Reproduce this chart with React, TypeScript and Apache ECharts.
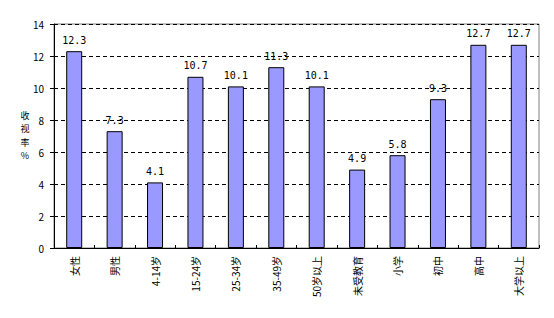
import React, { useEffect, useRef } from "react";
import * as echarts from "echarts";

const categories = ["女性", "男性", "4-14岁", "15-24岁", "25-34岁", "35-49岁", "50岁以上", "未受教育", "小学", "初中", "高中", "大学以上"];
const values = [12.3, 7.3, 4.1, 10.7, 10.1, 11.3, 10.1, 4.9, 5.8, 9.3, 12.7, 12.7];
const yTicks = { min: 0, max: 14, interval: 2 };
const yName = "收视率%";

export default function App() {
  const ref = useRef<HTMLDivElement>(null);
  useEffect(() => {
    const chart = echarts.init(ref.current!, null, { renderer: "svg" });
    const font = "'Noto Sans CJK SC', sans-serif";
    const nameChars = yName.split("").map((ch, i) => ({
      type: "text",
      x: 17,
      y: 107 + i * 13.5,
      style: {
        text: ch,
        fill: "#000",
        fontSize: 9,
        fontFamily: font,
        align: "center",
        verticalAlign: "middle",
      },
    }));
    chart.setOption({
      animation: false,
      backgroundColor: "#ffffff",
      grid: { left: 46, right: 7, top: 16, bottom: 62, show: true, borderColor: "#808080", borderWidth: 1 },
      graphic: nameChars,
      xAxis: {
        type: "category",
        data: categories,
        axisLine: { lineStyle: { color: "#000", width: 1 } },
        axisTick: { show: true, inside: true, length: 3, lineStyle: { color: "#000" } },
        axisLabel: { rotate: 90, color: "#000", fontSize: 10, fontFamily: font, margin: 8, interval: 0 },
      },
      yAxis: {
        type: "value",
        min: yTicks.min,
        max: yTicks.max,
        interval: yTicks.interval,
        axisLine: { show: true, lineStyle: { color: "#000", width: 1 } },
        axisTick: { show: true, length: 4, lineStyle: { color: "#000" } },
        axisLabel: { color: "#000", fontSize: 10, fontFamily: font, margin: 10 },
        splitLine: { show: true, lineStyle: { color: "#000", type: [4, 3], width: 1 } },
      },
      series: [
        {
          type: "bar",
          data: values,
          barWidth: 16,
          itemStyle: { color: "#9999FF", borderColor: "#000", borderWidth: 1 },
          label: {
            show: true,
            position: "top",
            distance: 6,
            color: "#000",
            fontSize: 10,
            fontFamily: "'DejaVu Sans Mono', monospace",
          },
        },
      ],
    });
    return () => chart.dispose();
  }, []);
  return <div ref={ref} style={{ width: 538, height: 302 }} />;
}
